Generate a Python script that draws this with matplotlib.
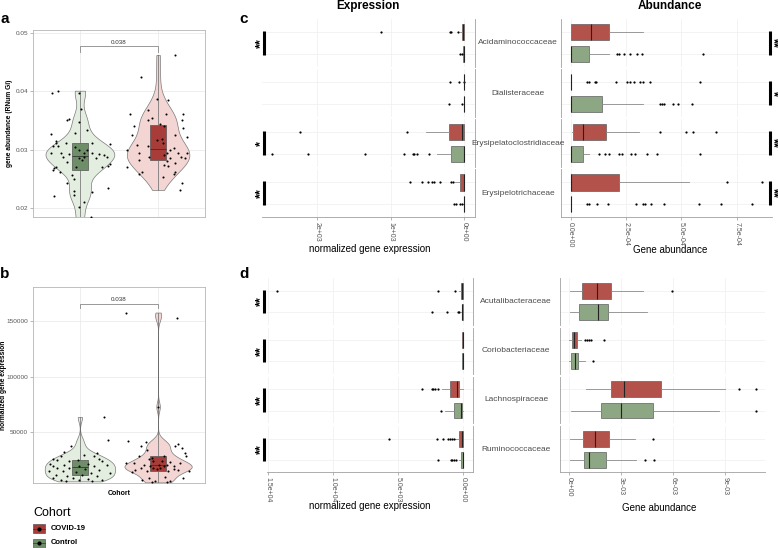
import numpy as np
import matplotlib
matplotlib.use('Agg')
import matplotlib.pyplot as plt
from matplotlib.patches import Rectangle
from matplotlib.transforms import blended_transform_factory

plt.rcParams['font.family'] = ['Liberation Sans', 'DejaVu Sans']

# ---------------- data: panel a (gene abundance, RNum Gi) ----------------
cohorts = ['Control', 'COVID-19']
ctrl_abund = [0.0397, 0.0401, 0.0397, 0.0369, 0.0351, 0.0352, 0.0348, 0.0334, 0.0329, 0.0327,
              0.0315, 0.0312, 0.0311, 0.0312, 0.0310, 0.0306, 0.0306, 0.0304, 0.0300, 0.0299,
              0.0294, 0.0294, 0.0293, 0.0295, 0.0294, 0.0293, 0.0291, 0.0288, 0.0287, 0.0285,
              0.0288, 0.0285, 0.0282, 0.0279, 0.0275, 0.0272, 0.0270, 0.0268, 0.0265, 0.0270,
              0.0270, 0.0262, 0.0257, 0.0249, 0.0242, 0.0235, 0.0228, 0.0230, 0.0221, 0.0222,
              0.0211, 0.0202, 0.0184, 0.0178]
ctrl_abund_jit = [-0.36, -0.28, -0.01, 0.02, -0.17, -0.14, -0.01, 0.09, -0.06, -0.37,
                  -0.31, -0.31, -0.18, 0.16, 0.39, -0.35, -0.28, -0.06, 0.09, -0.01,
                  -0.37, -0.24, -0.14, 0.05, 0.15, 0.24, 0.31, 0.35, 0.05, -0.01,
                  -0.22, 0.20, 0.03, -0.16, 0.38, 0.36, -0.30, -0.33, -0.34, -0.05,
                  0.28, -0.26, -0.10, -0.07, -0.16, 0.36, 0.15, -0.07, -0.33, -0.07,
                  0.05, -0.01, 0.14, -0.02]
covid_abund = [0.0462, 0.0425, 0.0386, 0.0385, 0.0368, 0.0361, 0.0361, 0.0361, 0.0351, 0.0351,
               0.0354, 0.0341, 0.0344, 0.0341, 0.0337, 0.0325, 0.0322, 0.0325, 0.0318, 0.0317,
               0.0308, 0.0306, 0.0311, 0.0302, 0.0299, 0.0299, 0.0294, 0.0294, 0.0294, 0.0294,
               0.0291, 0.0288, 0.0285, 0.0288, 0.0285, 0.0282, 0.0281, 0.0277, 0.0274, 0.0271,
               0.0272, 0.0262, 0.0262, 0.0258, 0.0258, 0.0253, 0.0243, 0.0231]
covid_abund_jit = [0.22, -0.22, -0.02, 0.13, -0.13, -0.36, 0.10, 0.32, -0.13, 0.31,
                   -0.08, -0.31, 0.03, 0.08, 0.32, 0.22, 0.37, -0.34, 0.05, -0.02,
                   -0.27, -0.13, 0.06, 0.20, -0.40, 0.15, -0.25, 0.12, 0.26, 0.37,
                   0.07, 0.29, 0.35, -0.12, 0.15, -0.25, 0.11, 0.22, 0.07, -0.40,
                   0.13, -0.20, 0.22, -0.24, 0.20, 0.06, 0.30, 0.28]
a_pvalue = '0.038'

# ---------------- data: panel b (normalized gene expression) ----------------
ctrl_expr = [63700, 42900, 38130, 31580, 32180, 30100, 28600, 28600, 26230, 26230,
             25630, 25630, 24140, 24140, 22060, 22060, 21160, 21160, 19680, 19680,
             20270, 18190, 18190, 17300, 16700, 15210, 15210, 14320, 13730, 13730,
             12240, 12240, 11340, 10750, 9260, 9260, 8370, 7770, 7180, 7770, 6290, 6290]
ctrl_expr_jit = [0.31, 0.36, -0.11, 0.22, -0.20, 0.05, -0.24, 0.18, -0.35, 0.24,
                 -0.29, -0.03, -0.14, 0.28, -0.38, 0.10, -0.20, 0.35, -0.35, -0.01,
                 0.18, -0.29, -0.14, 0.07, 0.24, -0.39, -0.22, -0.05, 0.14, 0.39,
                 -0.31, 0.03, -0.16, 0.22, -0.35, -0.09, 0.10, -0.24, -0.01, 0.28, -0.18, 0.16]
covid_expr = [157170, 152110, 73000, 42000, 41110, 39920, 36050, 37540, 33960, 37540,
              31580, 29200, 29200, 28610, 26230, 22650, 23250, 24140, 22650, 22650,
              21160, 21160, 19680, 19680, 19680, 18190, 18190, 16700, 16110, 15210,
              15210, 15210, 17800, 17300, 16900, 14500, 10150, 9260, 9260, 7770,
              6290, 6290, 5400, 5400, 24800, 27500, 20900]
covid_expr_jit = [-0.41, 0.24, 0.0, -0.39, -0.16, 0.25, 0.30, -0.22, -0.14, 0.22,
                  0.34, 0.36, 0.07, -0.25, -0.12, -0.31, 0.15, -0.06, -0.41, 0.28,
                  0.01, -0.18, -0.10, 0.07, 0.20, -0.06, 0.03, -0.29, 0.26, -0.14,
                  0.13, 0.39, -0.22, -0.01, 0.20, -0.33, 0.09, -0.12, 0.32, -0.20,
                  -0.04, 0.15, -0.08, 0.11, 0.05, -0.08, 0.12]
b_pvalue = '0.038'

# ---------------- data: panel c (box stats: whislo, q1, median, q3, whishi) ----------------
c_families = ['Acidaminococcaceae', 'Dialisteraceae', 'Erysipelatoclostridiaceae', 'Erysipelotrichaceae']
c_expr_covid = [[0, 0, 8, 25, 55], [0, 0, 0, 0, 0], [0, 0, 30, 204, 517], [0, 0, 5, 50, 120]]
c_expr_covid_out = [[1129, 190, 181, 82], [190, 68, 5], [2231, 771],
                    [735, 576, 487, 430, 415, 331, 170, 150]]
c_expr_ctrl = [[0, 0, 0, 8, 15], [0, 0, 0, 0, 0], [0, 0, 5, 177, 372], [0, 0, 0, 5, 20]]
c_expr_ctrl_out = [[50, 27], [204, 27], [2612, 2127, 1347, 823, 694, 680, 636, 476],
                   [136, 109, 50, 30]]
c_expr_sig = ['**', '', '*', '**']

# abundance in units of 1e-4
c_abund_covid = [[0, 0.03, 0.93, 1.72, 3.27], [0, 0, 0, 0, 0], [0.08, 0.10, 0.57, 1.62, 3.10],
                 [0, 0, 0, 2.19, 5.35]]
c_abund_covid_out = [[], [0.75, 0.82, 1.08, 1.17, 2.07, 2.55, 2.67, 2.85, 3.15, 3.27, 3.60, 5.82],
                     [4.05, 5.22, 5.52, 6.57], [7.05, 8.65]]
c_abund_ctrl = [[0, 0, 0, 0.82, 1.72], [0, 0, 0, 1.43, 3.27], [0, 0, 0, 0.54, 0.82], [0, 0, 0, 0, 0]]
c_abund_ctrl_out = [[2.10, 2.17, 2.40, 2.70, 3.00, 3.22, 5.95],
                    [4.02, 4.12, 4.23, 4.60, 4.84, 5.47],
                    [1.29, 1.57, 1.72, 2.17, 2.30, 2.74, 2.90, 3.45, 3.90, 5.85],
                    [0.75, 0.82, 1.20, 1.68, 2.97, 3.27, 3.37, 3.64, 4.20, 5.77, 6.78, 8.20]]
c_abund_sig = ['**', '*', '**', '**']

# ---------------- data: panel d ----------------
d_families = ['Acutalibacteraceae', 'Coriobacteriaceae', 'Lachnospiraceae', 'Ruminococcaceae']
d_expr_covid = [[0, 0, 60, 180, 300], [0, 0, 20, 50, 80], [0, 308, 487, 974, 1640], [0, 0, 82, 282, 600]]
d_expr_covid_out = [[14330, 1897, 615], [], [3128, 2410, 2282, 2154, 1897],
                    [5692, 2026, 1513, 1128, 1000, 872, 692]]
d_expr_ctrl = [[0, 0, 40, 80, 150], [0, 0, 20, 50, 80], [0, 51, 180, 667, 1385], [0, 0, 30, 154, 300]]
d_expr_ctrl_out = [[2358, 1256, 418, 341], [], [1718], [1897, 949, 820, 718, 564]]
d_expr_sig = ['**', '**', '**', '**']

# abundance in units of 1e-3
d_abund_covid = [[0.02, 0.73, 1.60, 2.42, 4.25], [0, 0.15, 0.29, 0.44, 0.69],
                 [0.96, 2.40, 3.17, 5.31, 9.00], [0.02, 0.79, 1.50, 2.27, 3.81]]
d_abund_covid_out = [[5.92], [0.92, 1.02, 1.15, 1.27, 1.98], [9.81, 10.77], [4.83]]
d_abund_ctrl = [[0.02, 0.58, 1.64, 2.21, 4.48], [0, 0.10, 0.31, 0.50, 0.92],
                [0.12, 1.81, 2.98, 4.83, 8.62], [0.02, 0.87, 1.15, 2.12, 3.87]]
d_abund_ctrl_out = [[], [1.37], [10.77], [4.38, 4.90]]
d_abund_sig = ['', '', '', '']

# ---------------- styling ----------------
RED_BOX = '#A83C38'
GREEN_BOX = '#6E8E67'
RED_VIO = '#F3D5D3'
GREEN_VIO = '#E4EEE0'
RED_F = '#B3514B'
GREEN_F = '#8DA683'
GRAY_TXT = '#555555'

W, H = 778, 548
fig = plt.figure(figsize=(W / 100, H / 100), dpi=100)


def rect(x0, y0, x1, y1):
    return [x0 / W, 1 - y1 / H, (x1 - x0) / W, (y1 - y0) / H]


def draw_violin(ax, vals, pos, width, face):
    v = np.asarray(vals, float)
    sd = v.std(ddof=1)
    q75, q25 = np.percentile(v, [75, 25])
    bw = 0.9 * min(sd, (q75 - q25) / 1.34) * len(v) ** -0.2
    parts = ax.violinplot([v], positions=[pos], widths=width, bw_method=bw / sd,
                          showextrema=False, points=500)
    for b in parts['bodies']:
        b.set_facecolor(face)
        b.set_edgecolor('#7a7a7a')
        b.set_linewidth(0.5)
        b.set_alpha(1)
        b.set_zorder(2)


def draw_box(ax, vals, pos, face):
    bp = ax.boxplot([vals], positions=[pos], widths=0.2, whis=(0, 100), showfliers=False,
                    patch_artist=True, showcaps=False,
                    boxprops=dict(facecolor=face, edgecolor='#555555', linewidth=0.5),
                    whiskerprops=dict(color='#666666', linewidth=0.5),
                    medianprops=dict(color='#333333', linewidth=0.6))
    for k in ['boxes', 'whiskers', 'medians']:
        for art in bp[k]:
            art.set_zorder(3)


def setup_ab(ax, ylim, yticks, ylabels, ylabel, label_x):
    ax.set_xlim(0.4, 2.6)
    ax.set_ylim(*ylim)
    ax.set_yticks(yticks)
    ax.set_yticklabels(ylabels)
    ax.set_xticks([1, 2])
    ax.set_xticklabels([])
    ax.tick_params(axis='x', length=0)
    ax.tick_params(axis='y', length=2, width=0.5, colors='#9a9a9a', labelcolor=GRAY_TXT,
                   labelsize=4.6, pad=1.5)
    ax.grid(True, color='#EBEBEB', lw=0.6)
    ax.set_axisbelow(True)
    for s in ax.spines.values():
        s.set_color('#B5B5B5')
        s.set_linewidth(0.6)
    ax.set_ylabel(ylabel, fontsize=4.8, fontweight='bold')
    ax.yaxis.set_label_coords(label_x, 0.5)


# ---------------- panel a ----------------
axa = fig.add_axes(rect(33, 30, 205, 217))
draw_violin(axa, ctrl_abund, 1, 0.88, GREEN_VIO)
draw_violin(axa, covid_abund, 2, 0.80, RED_VIO)
draw_box(axa, ctrl_abund, 1, GREEN_BOX)
draw_box(axa, covid_abund, 2, RED_BOX)
axa.scatter(1 + np.array(ctrl_abund_jit), ctrl_abund, s=2.2, c='black', lw=0, zorder=5)
axa.scatter(2 + np.array(covid_abund_jit), covid_abund, s=2.2, c='black', lw=0, zorder=5)
setup_ab(axa, (0.01846, 0.0505), [0.02, 0.03, 0.04, 0.05], ['0.02', '0.03', '0.04', '0.05'],
         'gene abundance (RNum Gi)', -0.115)
axa.plot([1, 1, 2, 2], [0.0468, 0.0477, 0.0477, 0.0468], color='#888888', lw=0.6, zorder=4)
axa.text(1.5, 0.04795, a_pvalue, ha='center', va='bottom', fontsize=4.5, color='#333333')

# ---------------- panel b ----------------
axb = fig.add_axes(rect(33, 287, 205, 483))
draw_violin(axb, ctrl_expr, 1, 0.90, GREEN_VIO)
draw_violin(axb, covid_expr, 2, 0.86, RED_VIO)
draw_box(axb, ctrl_expr, 1, GREEN_BOX)
draw_box(axb, covid_expr, 2, RED_BOX)
axb.scatter(1 + np.array(ctrl_expr_jit), ctrl_expr, s=2.2, c='black', lw=0, zorder=5)
axb.scatter(2 + np.array(covid_expr_jit), covid_expr, s=2.2, c='black', lw=0, zorder=5)
setup_ab(axb, (4820, 180000), [50000, 100000, 150000], ['50000', '100000', '150000'],
         'normalized gene expression', -0.153)
axb.set_xlabel('Cohort', fontsize=5, fontweight='bold', labelpad=1.5)
axb.plot([1, 1, 2, 2], [161000, 164900, 164900, 161000], color='#888888', lw=0.6, zorder=4)
axb.text(1.5, 166200, b_pvalue, ha='center', va='bottom', fontsize=4.5, color='#333333')


# ---------------- facet panels (c, d) ----------------
def facet_panel(x0, x1, y_top, h, gap, covid_st, covid_out, ctrl_st, ctrl_out, scale,
                xlim, xticks, xticklabels, side, sig, bar_px, star_px, star_rot):
    for i in range(len(covid_st)):
        yt = y_top + i * (h + gap)
        ax = fig.add_axes(rect(x0, yt, x1, yt + h))
        stats = []
        for st, out, lab in [(ctrl_st[i], ctrl_out[i], 'Control'),
                             (covid_st[i], covid_out[i], 'COVID-19')]:
            wl, q1, md, q3, wh = np.array(st, float) * scale
            stats.append(dict(whislo=wl, q1=q1, med=md, q3=q3, whishi=wh,
                              fliers=np.array(out, float) * scale, label=lab))
        bp = ax.bxp(stats, positions=[1, 2], orientation='horizontal', widths=0.75,
                    patch_artist=True, showcaps=False,
                    boxprops=dict(edgecolor='#606060', linewidth=0.5),
                    whiskerprops=dict(color='#8a8a8a', linewidth=0.6),
                    medianprops=dict(color='#222222', linewidth=0.8),
                    flierprops=dict(marker='o', markersize=1.6, markerfacecolor='black',
                                    markeredgecolor='none'))
        for patch, col in zip(bp['boxes'], [GREEN_F, RED_F]):
            patch.set_facecolor(col)
        ax.set_xlim(*xlim)
        ax.set_ylim(0.4, 2.6)
        ax.set_yticks([1, 2])
        ax.set_yticklabels([])
        ax.set_xticks(xticks)
        ax.grid(True, color='#EFEFEF', lw=0.5)
        ax.set_axisbelow(True)
        for s in ax.spines.values():
            s.set_visible(False)
        ax.spines[side].set_visible(True)
        ax.spines[side].set_color('#A0A0A0')
        ax.spines[side].set_linewidth(0.6)
        ax.tick_params(axis='y', length=0)
        if i == len(covid_st) - 1:
            ax.spines['bottom'].set_visible(True)
            ax.spines['bottom'].set_color('#A0A0A0')
            ax.spines['bottom'].set_linewidth(0.6)
            ax.set_xticklabels(xticklabels, rotation=-90, fontsize=5, color=GRAY_TXT)
            ax.tick_params(axis='x', length=2, width=0.5, colors='#9a9a9a', labelcolor=GRAY_TXT,
                           pad=1.5)
        else:
            ax.set_xticklabels([])
            ax.tick_params(axis='x', length=0)
        if sig[i]:
            tr = blended_transform_factory(ax.transAxes, ax.transData)
            bx = (bar_px - x0) / (x1 - x0)
            sx = (star_px - x0) / (x1 - x0)
            ax.plot([bx, bx], [0.95, 2.05], transform=tr, color='black', lw=2.2,
                    solid_capstyle='butt', clip_on=False, zorder=6)
            ax.text(sx, 1.5, sig[i], transform=tr, rotation=star_rot, ha='center', va='center',
                    fontsize=9, fontweight='bold', clip_on=False, zorder=6)


c_top, c_h, c_gap = 19, 48, 2.1
d_top, d_h, d_gap = 278.3, 46.5, 2.7

facet_panel(262, 475, c_top, c_h, c_gap, c_expr_covid, c_expr_covid_out, c_expr_ctrl,
            c_expr_ctrl_out, 1.0, (2750, -150), [0, 1000, 2000], ['0e+00', '1e+03', '2e+03'],
            'right', c_expr_sig, 264, 261.5, 90)
facet_panel(561, 772, c_top, c_h, c_gap, c_abund_covid, c_abund_covid_out, c_abund_ctrl,
            c_abund_ctrl_out, 1e-4, (-0.43e-4, 9.08e-4), [0, 2.5e-4, 5e-4, 7.5e-4],
            ['0.0e+00', '2.5e-04', '5.0e-04', '7.5e-04'],
            'left', c_abund_sig, 769.5, 773, -90)
facet_panel(267, 473, d_top, d_h, d_gap, d_expr_covid, d_expr_covid_out, d_expr_ctrl,
            d_expr_ctrl_out, 1.0, (15080, -770), [0, 5000, 10000, 15000],
            ['0.0e+00', '5.0e+03', '1.0e+04', '1.5e+04'],
            'right', d_expr_sig, 264, 261.5, 90)
facet_panel(560, 765, d_top, d_h, d_gap, d_abund_covid, d_abund_covid_out, d_abund_ctrl,
            d_abund_ctrl_out, 1e-3, (-0.54e-3, 11.3e-3), [0, 3e-3, 6e-3, 9e-3],
            ['0e+00', '3e-03', '6e-03', '9e-03'],
            'left', d_abund_sig, 766, 772, -90)

# ---------------- overlay: labels, headers, legend ----------------
ov = fig.add_axes([0, 0, 1, 1])
ov.set_xlim(0, W)
ov.set_ylim(H, 0)
ov.axis('off')
ov.patch.set_alpha(0)

for lab, x, y in [('a', 5, 19), ('b', 5, 274), ('c', 244, 19), ('d', 244, 274)]:
    ov.text(x, y, lab, ha='center', va='center', fontsize=11, fontweight='bold')

ov.text(368, 6, 'Expression', ha='center', va='center', fontsize=8.5, fontweight='bold')
ov.text(670, 6, 'Abundance', ha='center', va='center', fontsize=8.5, fontweight='bold')

for i, fam in enumerate(c_families):
    yc = c_top + i * (c_h + c_gap) + c_h / 2
    ov.text(518, yc, fam, ha='center', va='center', fontsize=6, color='#4d4d4d')
for i, fam in enumerate(d_families):
    yc = d_top + i * (d_h + d_gap) + d_h / 2
    ov.text(516, yc, fam, ha='center', va='center', fontsize=6, color='#4d4d4d')

ov.text(370, 249, 'normalized gene expression', ha='center', va='center', fontsize=7)
ov.text(670, 250, 'Gene abundance', ha='center', va='center', fontsize=7)
ov.text(370, 506, 'normalized gene expression', ha='center', va='center', fontsize=7)
ov.text(659, 508, 'Gene abundance', ha='center', va='center', fontsize=7)

# legend
ov.text(33, 513, 'Cohort', ha='left', va='center', fontsize=9)
for lab, col, yc in [('COVID-19', RED_BOX, 528.5), ('Control', GREEN_BOX, 543)]:
    ov.add_patch(Rectangle((33.5, yc - 4.5), 11.5, 9, facecolor=col, edgecolor='#555555', lw=0.5))
    ov.plot([33.5, 45], [yc, yc], color='#333333', lw=0.5)
    ov.plot([39.2], [yc], 'o', color='black', markersize=2)
    ov.text(51, yc, lab, ha='left', va='center', fontsize=5.5, fontweight='bold')

fig.savefig('out.png', dpi=100)
